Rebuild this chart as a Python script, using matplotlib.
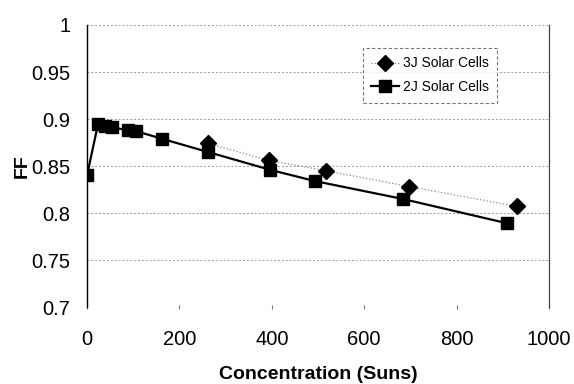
import numpy as np
import matplotlib.pyplot as plt

plt.rcParams['font.family'] = ['Liberation Sans', 'DejaVu Sans']

# 2J cells
x_2j = [0, 24, 40, 55, 89, 107, 162, 261, 396, 493, 683, 910]
ff_2j = [0.840, 0.895, 0.893, 0.891, 0.888, 0.887, 0.879, 0.865, 0.846, 0.834, 0.815, 0.789]

# 3J cells
x_3j = [261, 394, 517, 698, 931]
ff_3j = [0.874, 0.856, 0.845, 0.828, 0.807]

y_ticks = [0.7, 0.75, 0.8, 0.85, 0.9, 0.95, 1]
y_labels = ['0.7', '0.75', '0.8', '0.85', '0.9', '0.95', '1']
x_ticks = [0, 200, 400, 600, 800, 1000]

fig = plt.figure(figsize=(5.74, 3.84), dpi=100)
ax = fig.add_axes([0.1516, 0.2005, 0.8048, 0.7344])

ax.plot(x_3j, ff_3j, color='#888888', linestyle=':', linewidth=0.9,
        marker='D', markersize=8.5, markerfacecolor='black', markeredgecolor='black',
        label='3J Solar Cells', zorder=3)
ax.plot(x_2j, ff_2j, color='black', linewidth=1.6,
        marker='s', markersize=9, markerfacecolor='black', markeredgecolor='black',
        label='2J Solar Cells', zorder=4)

ax.set_xlim(0, 1000)
ax.set_ylim(0.7, 1.0)
ax.set_yticks(y_ticks)
ax.set_yticklabels(y_labels)
ax.set_xticks(x_ticks)

for y in y_ticks:
    ax.axhline(y, color='#999999', linestyle=(0, (2, 2)), linewidth=0.7, zorder=1)

ax.spines['left'].set_color('black')
ax.spines['left'].set_linewidth(1.0)
ax.spines['right'].set_color('#444444')
ax.spines['right'].set_linewidth(0.9)
ax.spines['top'].set_visible(False)
ax.spines['bottom'].set_visible(False)

ax.tick_params(axis='y', length=0, pad=12, labelsize=14.5)
ax.tick_params(axis='x', length=3, direction='inout', color='#777777', pad=15, labelsize=14.5)

ax.set_ylabel('FF', fontsize=14, fontweight='bold', labelpad=0)
ax.set_xlabel('Concentration (Suns)', fontsize=14, fontweight='bold', labelpad=12)

leg = ax.legend(loc='upper left', bbox_to_anchor=(0.597, 0.918), fontsize=10,
                frameon=True, fancybox=False, handlelength=2.0, borderpad=0.6,
                labelspacing=0.7, handletextpad=0.3, borderaxespad=0)
leg.get_frame().set_edgecolor('#555555')
leg.get_frame().set_linestyle((0, (3, 2)))
leg.get_frame().set_linewidth(0.8)

fig.savefig('out.png', dpi=100)
